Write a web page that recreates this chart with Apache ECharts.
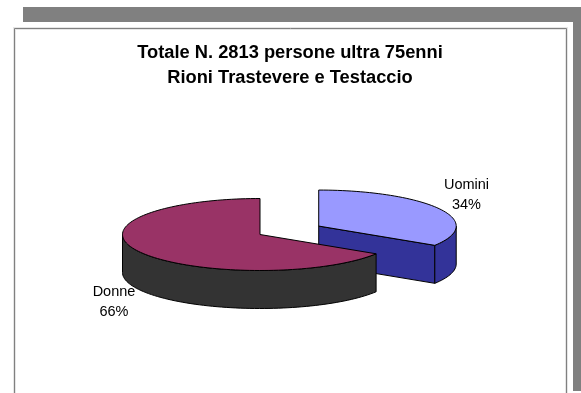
<!DOCTYPE html>
<html>
<head>
<meta charset="utf-8">
<style>html,body{margin:0;padding:0;background:#fff}#chart{width:581px;height:393px}</style>
<script src="https://cdn.jsdelivr.net/npm/echarts@6/dist/echarts.min.js"></script>
</head>
<body>
<div id="chart"></div>
<script>
// Shares of the over-75 population by gender
const titleLines = ['Totale N. 2813 persone ultra 75enni', 'Rioni Trastevere e Testaccio'];
const categories = ['Uomini', 'Donne'];
const shares = [34, 66];

const topColors = ['#9999ff', '#993366'];
const wallColors = ['#333399', '#333333'];

// Tilted disc geometry
const CX = 260, CY = 234.5, RX = 137.5, RY = 36, DEPTH = 38;
const EXPLODE = 67;
const explodedIndex = 0;
const labelCentres = [[466.5, 194.5], [114, 302]];

const total = shares.reduce((a, b) => a + b, 0);
const rad = d => d * Math.PI / 180;

function arcPoints(cx, cy, a0, a1, dy) {
  const pts = [];
  const n = Math.max(2, Math.ceil((a1 - a0) / 2));
  for (let i = 0; i <= n; i++) {
    const a = rad(a0 + (a1 - a0) * i / n);
    pts.push([cx + RX * Math.sin(a), cy - RY * Math.cos(a) + dy]);
  }
  return pts;
}

function face(points, fill) {
  return {
    type: 'polygon',
    shape: { points },
    style: { fill, stroke: '#000', lineWidth: 1, lineJoin: 'round' }
  };
}

function renderSlice(params, api) {
  const i = params.dataIndex;
  const value = api.value(0);
  const before = shares.slice(0, i).reduce((a, b) => a + b, 0);
  const a0 = before / total * 360;
  const a1 = a0 + value / total * 360;
  const mid = rad((a0 + a1) / 2);
  const off = i === explodedIndex ? EXPLODE : 0;
  const cx = CX + off * Math.sin(mid);
  const cy = CY - off * Math.cos(mid) * RY / RX;
  const children = [];

  // Cut faces turned toward the viewer
  [[a0, Math.sin(rad(a0)) < -1e-6], [a1, Math.sin(rad(a1)) > 1e-6]].forEach(([a, visible]) => {
    if (!visible) return;
    const edge = [cx + RX * Math.sin(rad(a)), cy - RY * Math.cos(rad(a))];
    children.push(face([[cx, cy], edge, [edge[0], edge[1] + DEPTH], [cx, cy + DEPTH]], wallColors[i]));
  });

  // Outer wall: only the front half of the rim shows
  const w0 = Math.max(a0, 90), w1 = Math.min(a1, 270);
  if (w1 > w0) {
    const upper = arcPoints(cx, cy, w0, w1, 0);
    const lower = arcPoints(cx, cy, w0, w1, DEPTH).reverse();
    children.push(face(upper.concat(lower), wallColors[i]));
  }

  // Top surface
  children.push(face([[cx, cy]].concat(arcPoints(cx, cy, a0, a1, 0)), topColors[i]));

  // Category and percentage, with a thin white edge where text crosses the disc
  children.push({
    type: 'text',
    z2: 10,
    style: {
      x: labelCentres[i][0],
      y: labelCentres[i][1],
      text: categories[i] + '\n' + value + '%',
      align: 'center',
      verticalAlign: 'middle',
      fill: '#000',
      stroke: '#fff',
      lineWidth: 2,
      font: '14.5px "Liberation Sans", Arial, sans-serif',
      lineHeight: 20
    }
  });
  return { type: 'group', children };
}

const chart = echarts.init(document.getElementById('chart'), null, { renderer: 'canvas' });
chart.setOption({
  animation: false,
  backgroundColor: '#fff',
  title: {
    text: titleLines.join('\n'),
    left: 285,
    top: 35,
    textAlign: 'center',
    textStyle: {
      fontFamily: '"Liberation Sans", Arial, sans-serif',
      fontSize: 18.3,
      fontWeight: 'bold',
      color: '#000',
      lineHeight: 25
    }
  },
  graphic: [
    { type: 'rect', z: -5, shape: { x: 23, y: 7, width: 558, height: 15 }, style: { fill: '#808080' } },
    { type: 'rect', z: -5, shape: { x: 573, y: 7, width: 8, height: 384 }, style: { fill: '#808080' } },
    { type: 'rect', z: -4, shape: { x: 14.5, y: 28.5, width: 552, height: 380 }, style: { fill: '#fff', stroke: '#e6e6e6', lineWidth: 3 } },
    { type: 'rect', z: -3, shape: { x: 14.5, y: 28.5, width: 552, height: 380 }, style: { fill: 'none', stroke: '#808080', lineWidth: 1 } }
  ],
  series: [{
    type: 'custom',
    coordinateSystem: 'none',
    renderItem: renderSlice,
    data: shares.map(v => [v]),
    silent: true
  }]
});
</script>
</body>
</html>
